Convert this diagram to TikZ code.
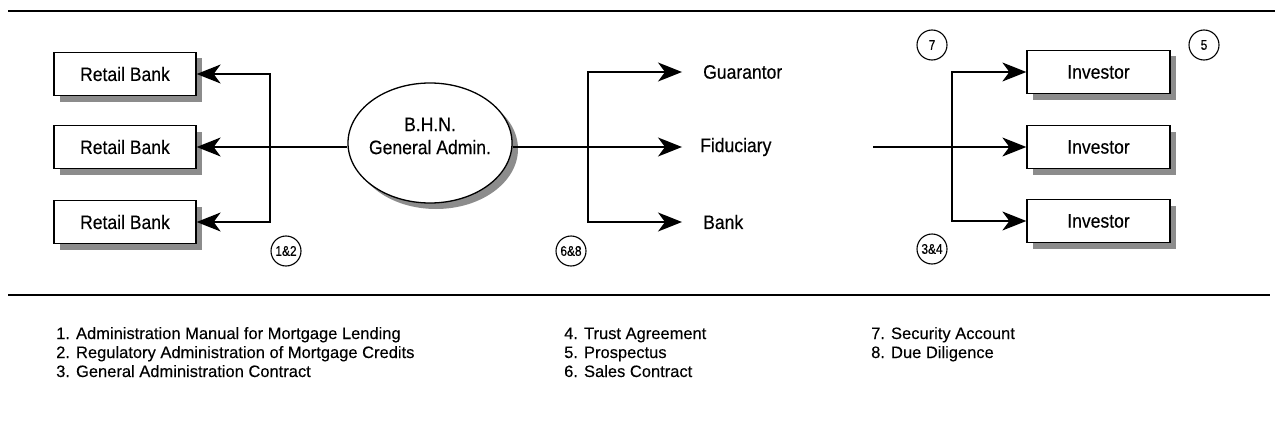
\documentclass[tikz,border=0pt]{standalone}
\usepackage{fontspec}
\setmainfont{Liberation Sans}
\newfontfamily\labelfont{Liberation Sans}[FakeStretch=0.9,FakeBold=0.3]
\newfontfamily\tagfont{Liberation Sans}[FakeStretch=0.85,FakeBold=0.5]
\newfontfamily\legendfont{Liberation Sans}[FakeBold=0.2]
\usetikzlibrary{arrows.meta,shapes.geometric,shadows}

\begin{document}
\begin{tikzpicture}[x=1pt,y=-1pt,
  flow/.style={line width=1.4pt},
  tip/.style={-{Stealth[length=24pt,width=19pt,inset=7pt]}},
  tips/.style={{Stealth[length=24pt,width=19pt,inset=7pt]}-{Stealth[length=24pt,width=19pt,inset=7pt]}},
  shade/.style={drop shadow={shadow xshift=6pt,shadow yshift=-6pt,fill=black!45,opacity=1}},
  partybox/.style={draw,line width=1.3pt,fill=white,minimum width=142pt,minimum height=43pt,
    inner sep=0pt,font=\labelfont\fontsize{19.5}{23}\selectfont,shade},
  partylabel/.style={anchor=west,inner sep=0pt,font=\labelfont\fontsize{19.5}{23}\selectfont},
  tag/.style={circle,draw,line width=1.1pt,minimum size=30pt,inner sep=0pt,
    font=\tagfont\fontsize{14}{16}\selectfont},
  legend/.style={anchor=base west,inner sep=0pt,font=\legendfont\fontsize{16.5}{19}\selectfont},
  rule/.style={line width=1.8pt}]

\useasboundingbox[fill=white] (0,0) rectangle (1277,428);

% horizontal rules framing the chart
\draw[rule] (8,11) -- (1275,11);
\draw[rule] (8,295) -- (1270,295);

% retail banks
\node[partybox] (rb1) at (125,74)  {Retail Bank};
\node[partybox] (rb2) at (125,147) {Retail Bank};
\node[partybox] (rb3) at (125,222) {Retail Bank};

% general administrator
\node[ellipse,draw,line width=1.3pt,fill=white,minimum width=164pt,minimum height=120pt,
      inner sep=0pt,shade] (bhn) at (430,143) {};
\node[align=center,inner sep=0pt,font=\labelfont\fontsize{19.5}{23}\selectfont] (bhntxt) at (430,136)
  {B.H.N.\\General Admin.};

% guarantor, fiduciary, bank
\node[partylabel] (gua) at (703,72)  {Guarantor};
\node[partylabel] (fid) at (700,147) {Fiduciary};
\node[partylabel] (bnk) at (703,222) {Bank};

% investors
\node[partybox,minimum width=143pt] (inv1) at (1098.5,72)  {Investor};
\node[partybox,minimum width=143pt] (inv2) at (1098.5,147) {Investor};
\node[partybox,minimum width=143pt] (inv3) at (1098.5,221) {Investor};

% junction points of the forks
\coordinate (lt) at (270,74);
\coordinate (lb) at (270,222);
\coordinate (mt) at (588,72);
\coordinate (mb) at (588,222);
\coordinate (src) at (873,147);
\coordinate (rt) at (952,72);
\coordinate (rb) at (952,221);

% connectors
\draw[flow,tip] (bhn.west |- rb2.east) -- (rb2.east);
\draw[flow,tips] (rb1.east) -- (lt) -- (lb) -- (rb3.east);

\draw[flow,tip,shorten >=18pt] (bhn.east |- fid.west) -- (fid.west);
\draw[flow,tips,shorten <=21pt,shorten >=21pt] (gua.west) -- (mt) -- (mb) -- (bnk.west);

\draw[flow,tip] (src) -- (inv2.west);
\draw[flow,tips] (inv1.west) -- (rt) -- (rb) -- (inv3.west);

% document references
\node[tag] (t12) at (286,251) {1\&2};
\node[tag] (t68) at (571,251) {6\&8};
\node[tag] (t34) at (932,249) {3\&4};
\node[tag] (t7)  at (932,45)  {7};
\node[tag] (t5)  at (1204,45) {5};

% legend
\node[legend] (l1) at (56,339) {1. Administration Manual for Mortgage Lending};
\node[legend] (l2) at (56,358) {2. Regulatory Administration of Mortgage Credits};
\node[legend] (l3) at (56,377) {3. General Administration Contract};
\node[legend] (l4) at (564,339) {4. Trust Agreement};
\node[legend] (l5) at (564,358) {5. Prospectus};
\node[legend] (l6) at (564,377) {6. Sales Contract};
\node[legend] (l7) at (871,339) {7. Security Account};
\node[legend] (l8) at (871,358) {8. Due Diligence};
\end{tikzpicture}
\end{document}
